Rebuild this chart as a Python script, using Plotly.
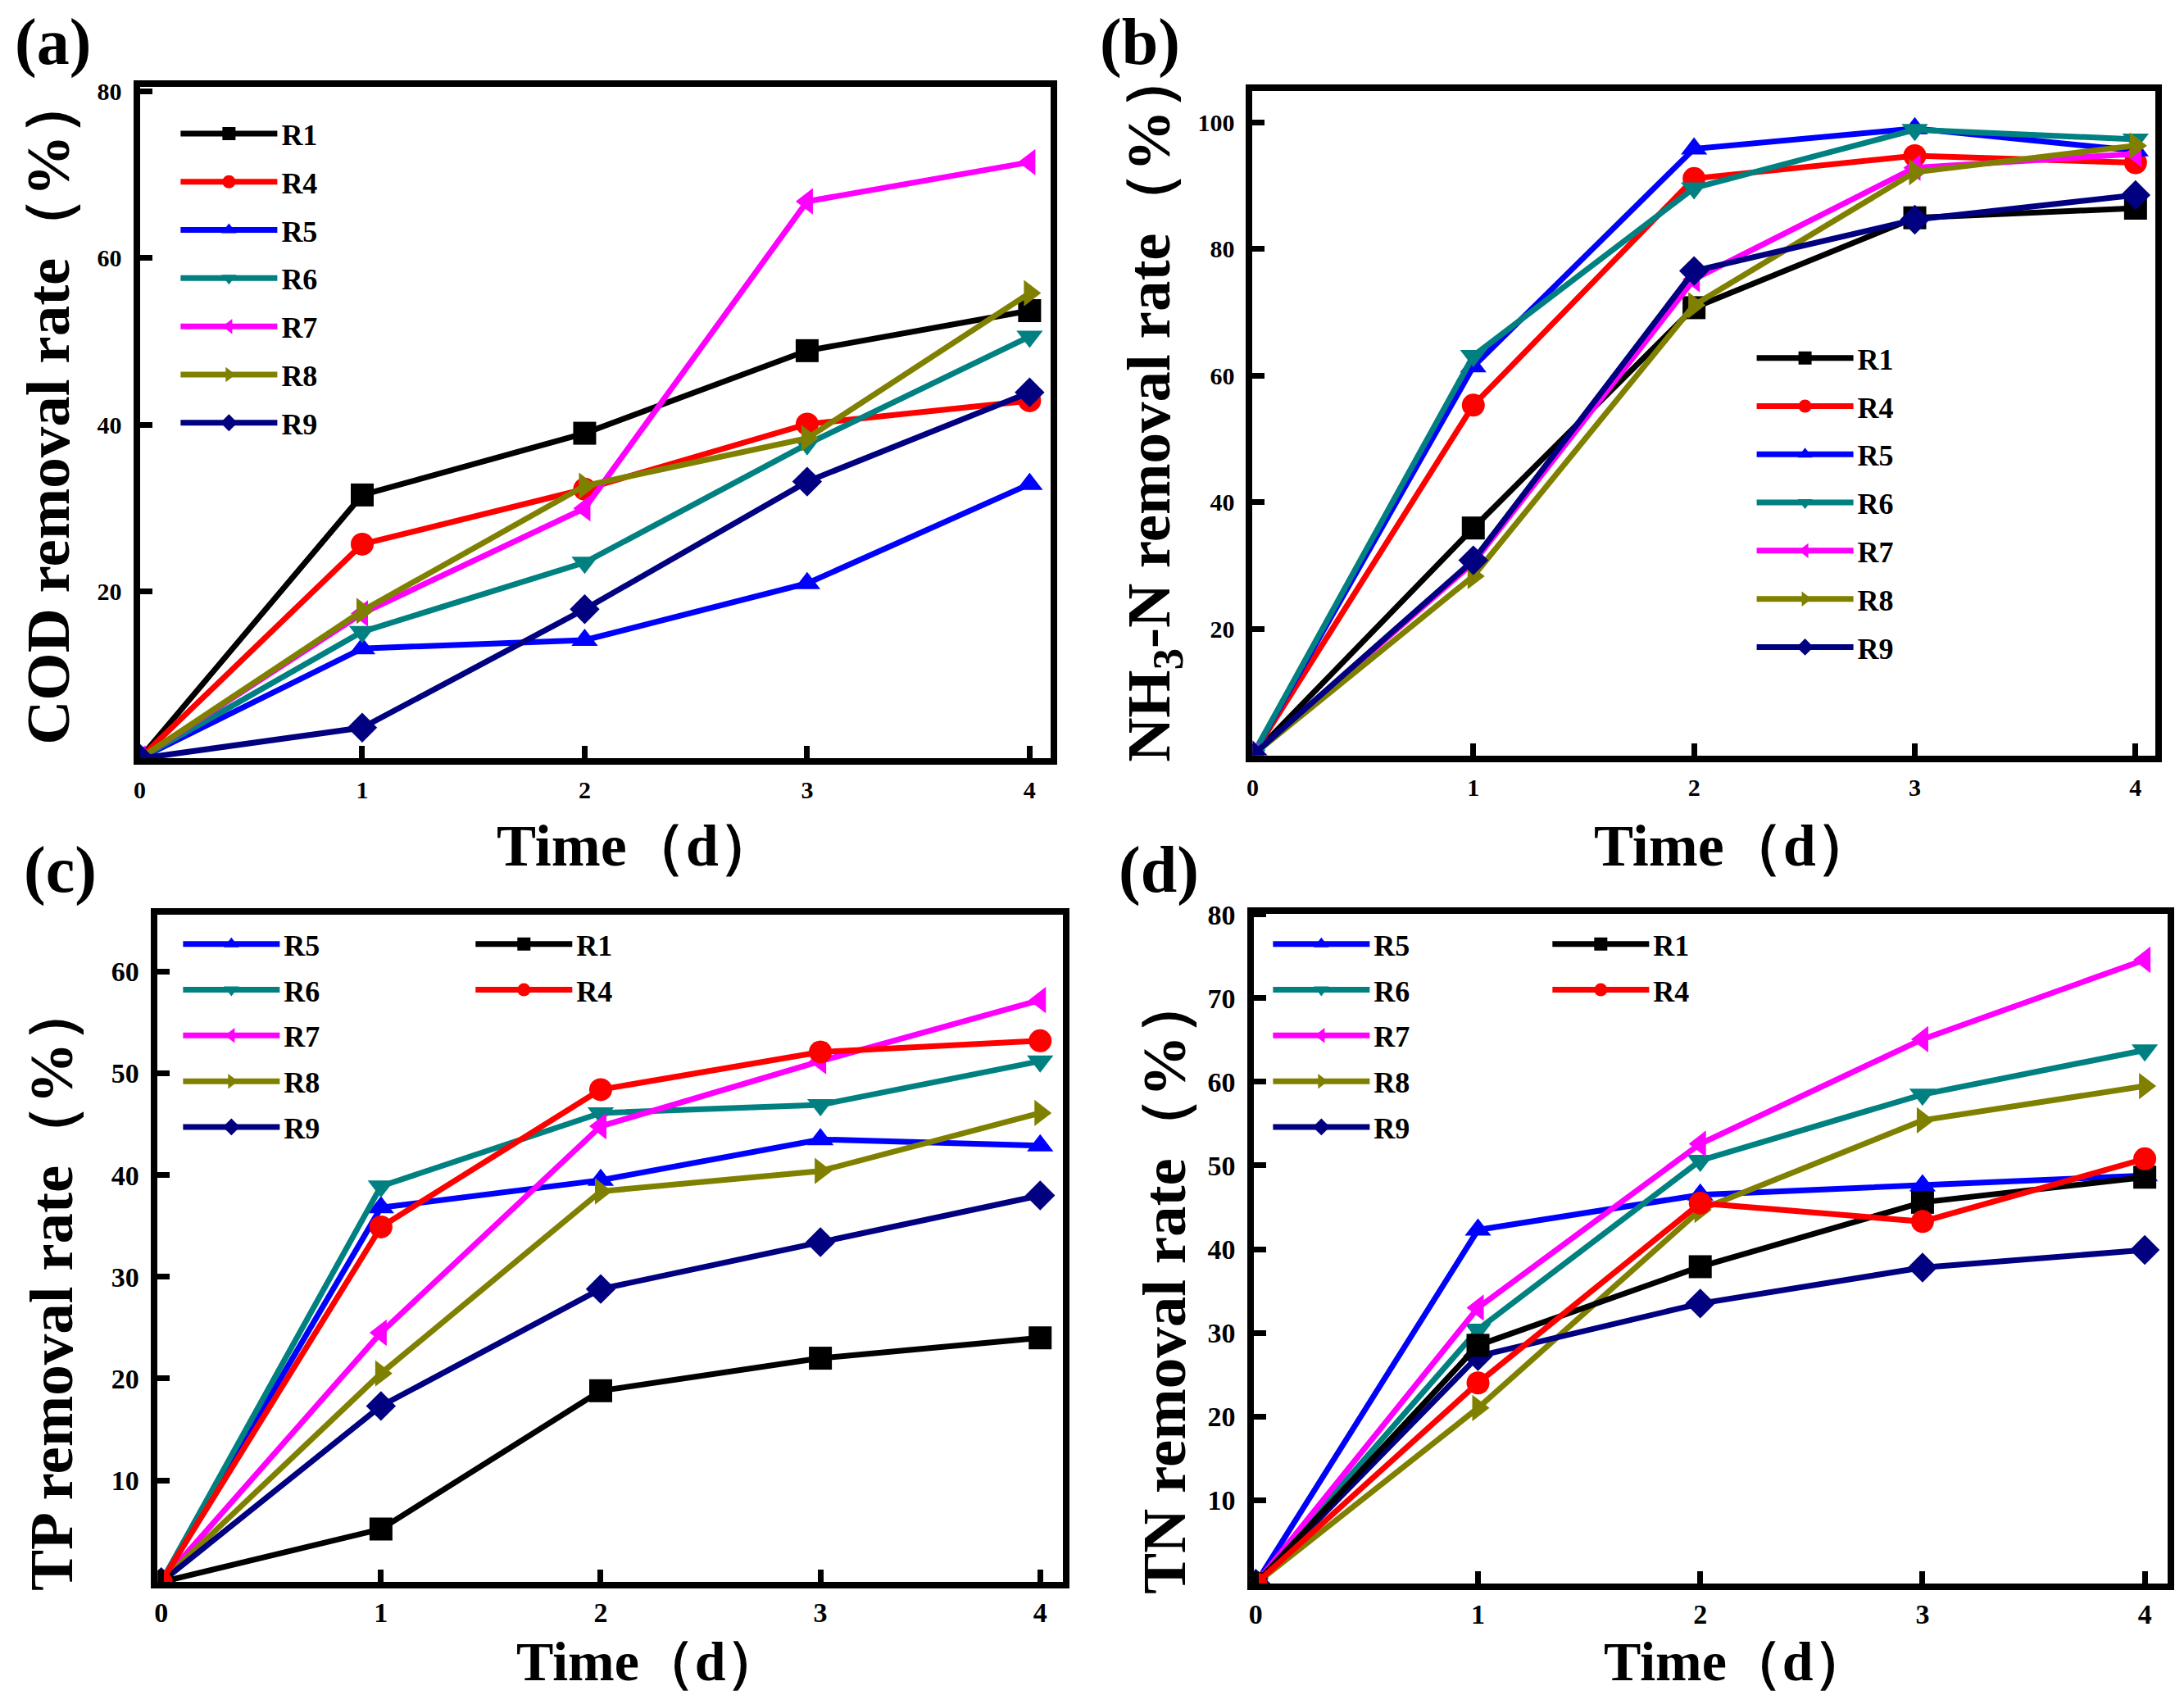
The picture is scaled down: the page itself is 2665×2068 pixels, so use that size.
import plotly.graph_objects as go

# ---------------- data ----------------
days = [0, 1, 2, 3, 4]
series = ["R1", "R4", "R5", "R6", "R7", "R8", "R9"]

cod = {
    "R1": [0, 31.6, 39.0, 48.9, 53.7],
    "R4": [0, 25.7, 32.3, 40.1, 42.9],
    "R5": [0, 13.2, 14.2, 21.0, 32.9],
    "R6": [0, 15.2, 23.5, 37.7, 50.6],
    "R7": [0, 17.4, 30.0, 66.8, 71.5],
    "R8": [0, 17.7, 32.7, 38.4, 55.8],
    "R9": [0, 3.7, 17.9, 33.2, 43.9],
}
nh3 = {
    "R1": [0, 35.9, 70.7, 84.9, 86.4],
    "R4": [0, 55.3, 91.1, 94.7, 93.6],
    "R5": [0, 61.4, 95.8, 99.0, 95.5],
    "R6": [0, 63.1, 89.6, 98.8, 97.3],
    "R7": [0, 30.4, 75.2, 92.8, 95.0],
    "R8": [0, 28.3, 71.1, 92.1, 96.3],
    "R9": [0, 30.8, 76.5, 84.6, 88.5],
}
tp = {
    "R1": [0, 5.2, 18.8, 22.0, 24.0],
    "R4": [0, 34.9, 48.4, 52.1, 53.2],
    "R5": [0, 36.8, 39.5, 43.5, 42.9],
    "R6": [0, 38.9, 46.1, 46.9, 51.2],
    "R7": [0, 24.5, 44.8, 51.2, 57.2],
    "R8": [0, 20.5, 38.4, 40.4, 46.1],
    "R9": [0, 17.3, 28.8, 33.4, 38.0],
}
tn = {
    "R1": [0, 28.5, 37.9, 45.6, 48.6],
    "R4": [0, 24.0, 45.5, 43.3, 50.8],
    "R5": [0, 42.3, 46.5, 47.6, 48.8],
    "R6": [0, 30.4, 50.6, 58.5, 63.8],
    "R7": [0, 33.0, 52.6, 65.1, 74.6],
    "R8": [0, 21.0, 44.7, 55.4, 59.5],
    "R9": [0, 27.2, 33.5, 37.8, 39.9],
}

x_ticks = [0, 1, 2, 3, 4]
cod_ticks = [20, 40, 60, 80]
nh3_ticks = [20, 40, 60, 80, 100]
tp_ticks = [10, 20, 30, 40, 50, 60]
tn_ticks = [10, 20, 30, 40, 50, 60, 70, 80]

y_titles = ["COD removal rate（%）", "NH<sub>3</sub>-N removal rate（%）",
            "TP removal rate（%）", "TN removal rate（%）"]
x_title = "Time（d）"
panel_labels = ["(a)", "(b)", "(c)", "(d)"]

# ---------------- styles ----------------
colors = {"R1": "#000000", "R4": "#FF0000", "R5": "#0000FF", "R6": "#008080",
          "R7": "#FF00FF", "R8": "#808000", "R9": "#000080"}
symbols = {"R1": "square", "R4": "circle", "R5": "triangle-up", "R6": "triangle-down",
           "R7": "triangle-left", "R8": "triangle-right", "R9": "diamond"}

SERIF = "Liberation Serif, Times New Roman, serif"
W, H = 2665, 2068

fig = go.Figure()

order_cd = ["R5", "R6", "R7", "R8", "R9", "R1", "R4"]
panels = [
    (cod, "x", "y", {s: "legend" for s in series}, series),
    (nh3, "x2", "y2", {s: "legend2" for s in series}, series),
    (tp, "x3", "y3", {s: ("legend4" if s in ("R1", "R4") else "legend3") for s in series}, order_cd),
    (tn, "x4", "y4", {s: ("legend6" if s in ("R1", "R4") else "legend5") for s in series}, order_cd),
]

for pi, (data, xa, ya, leg, order) in enumerate(panels):
    for s in order:
        fig.add_trace(go.Scatter(
            x=days, y=data[s], name=s, mode="lines+markers",
            xaxis=xa, yaxis=ya, legend=leg[s], legendgroup=f"p{pi}_{s}",
            line=dict(color=colors[s], width=7),
            marker=dict(symbol=symbols[s], size=28, color=colors[s], line=dict(width=0)),
        ))


def py(ypix):
    return 1 - ypix / H


def px(xpix):
    return xpix / W


# domain x, domain y, x range, y range, y ticks, tick font size, x ticklabel standoff
panel_axes = [
    ([px(163), px(1278)], [py(916), py(90)], [0, 4.095], [0, 80.5], cod_ticks, 30, 5),
    ([px(1525), px(2630)], [py(912), py(95)], [0, 4.09], [0, 104.9], nh3_ticks, 30, 5),
    ([px(185), px(1293)], [py(1929), py(1108)], [-0.016, 4.104], [0, 65.6], tp_ticks, 34, 0),
    ([px(1527), px(2645)], [py(1931), py(1107)], [-0.007, 4.103], [0, 80.1], tn_ticks, 34, 0),
]

axis_common = dict(showline=True, mirror=True, linewidth=8, linecolor="black",
                   showgrid=False, zeroline=False, ticks="inside", ticklen=15,
                   tickwidth=7, tickcolor="black")

layout = {}
for i, (dx, dy, xr, yr, yt, tfs, xstd) in enumerate(panel_axes):
    k = "" if i == 0 else str(i + 1)
    tickfont = dict(family=SERIF, size=tfs, color="black", weight="bold")
    layout[f"xaxis{k}"] = dict(
        domain=dx, range=xr, tickvals=x_ticks, tickfont=tickfont, anchor=f"y{k}",
        ticklabelstandoff=xstd, **axis_common)
    layout[f"yaxis{k}"] = dict(
        domain=dy, range=yr, tickvals=yt, tickfont=tickfont, anchor=f"x{k}",
        ticklabelstandoff=8, **axis_common)

legend_font = dict(family=SERIF, size=36, color="black", weight="bold")


def mk_legend(x, y, gap):
    return dict(x=px(x), y=py(y), xanchor="left", yanchor="top", bgcolor="rgba(0,0,0,0)",
                font=legend_font, tracegroupgap=gap, itemwidth=118, traceorder="grouped")


layout["legend"] = mk_legend(208, 117, 9)
layout["legend2"] = mk_legend(2137, 393, 9)
layout["legend3"] = mk_legend(211, 1114, 6)
layout["legend4"] = mk_legend(569, 1114, 6)
layout["legend5"] = mk_legend(1545, 1114, 6)
layout["legend6"] = mk_legend(1887, 1114, 6)

ytitlefont = dict(family=SERIF, size=75, color="black", weight="bold")
annotations = []

# panel labels
label_pos = [(57, 35), (1387, 35), (66, 1053), (1410, 1053)]
for lab, (lx, ly) in zip(panel_labels, label_pos):
    annotations.append(dict(text=lab, x=px(lx), y=py(ly), xref="paper", yref="paper",
                            showarrow=False, xanchor="center", yanchor="middle",
                            font=dict(family=SERIF, size=80, color="black", weight="bold")))

# x-axis titles (x, y, font size)
xt_pos = [(772, 1023, 72), (2115, 1023, 72), (786, 2027, 68), (2117, 2027, 68)]
for (tx, ty, fs) in xt_pos:
    annotations.append(dict(text=x_title, x=px(tx), y=py(ty), xref="paper", yref="paper",
                            showarrow=False, xanchor="center", yanchor="middle",
                            font=dict(family=SERIF, size=fs, color="black", weight="bold")))

# y-axis titles
yt_pos = [(50, 486), (1403, 482), (54, 1565), (1416, 1562)]
for ttl, (tx, ty) in zip(y_titles, yt_pos):
    annotations.append(dict(text=ttl, x=px(tx), y=py(ty), xref="paper", yref="paper",
                            showarrow=False, xanchor="center", yanchor="middle",
                            textangle=-90, font=ytitlefont))

fig.update_layout(
    width=W, height=H, margin=dict(l=0, r=0, t=0, b=0),
    paper_bgcolor="white", plot_bgcolor="white",
    annotations=annotations, showlegend=True, **layout)

fig.write_html("out.html", config={"displayModeBar": False},
               post_script="document.body.style.margin='0px';document.body.style.overflow='hidden';")
